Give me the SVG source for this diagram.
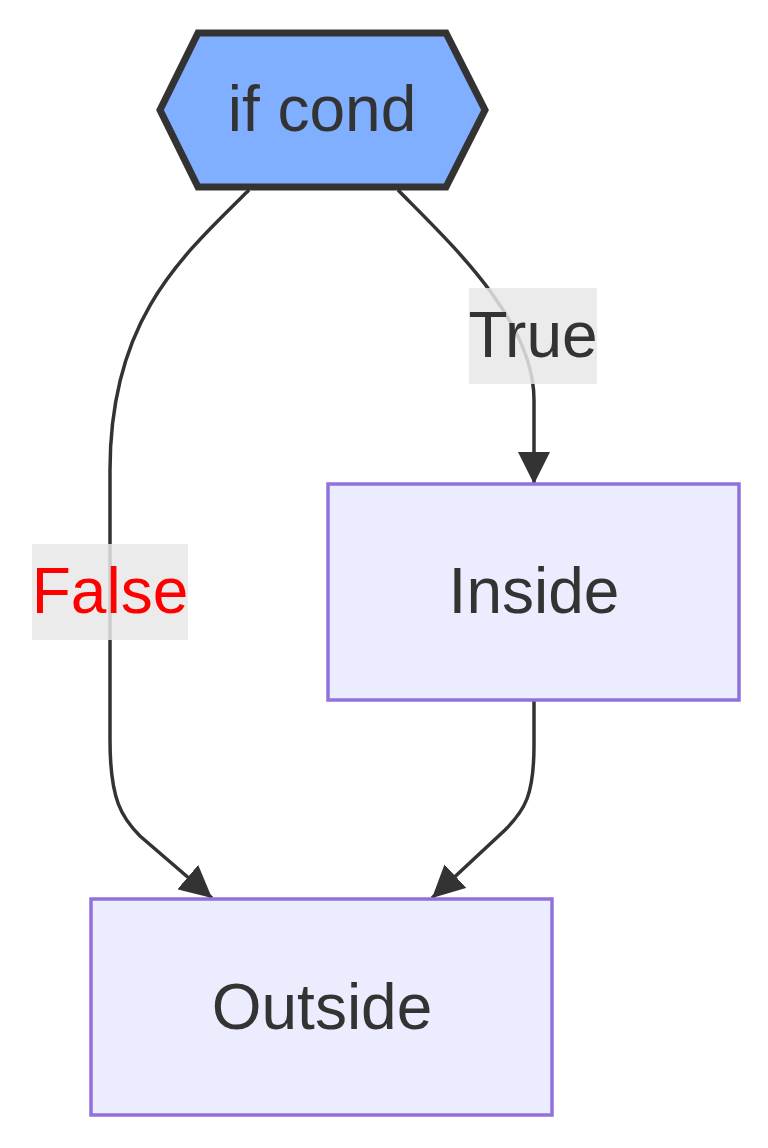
<svg xmlns="http://www.w3.org/2000/svg" width="768" height="1148" viewBox="0 0 768 1148">
<style>
.t{font-family:"Liberation Sans",Arial,sans-serif;font-size:64px;fill:#333;text-anchor:middle}
.box{fill:#ECECFF;stroke:#9370DB;stroke-width:3.5}
.edge{fill:none;stroke:#333;stroke-width:3.5}
.lbl{fill:#e8e8e8;fill-opacity:0.85}
</style>
<defs>
<marker id="arr" markerUnits="userSpaceOnUse" markerWidth="32" markerHeight="32" viewBox="0 0 32 32" refX="32" refY="16" orient="auto">
<path d="M0,0 L32,16 L0,32 z" fill="#333"/>
</marker>
</defs>
<g id="edges">
<path class="edge" d="M249,190 C180,258 110,320 110,470 L110,740 C110,800 122,818 140,836 L212,898" marker-end="url(#arr)"/>
<path class="edge" d="M398,190 C450,243 534,320 534,400 L534,484" marker-end="url(#arr)"/>
<path class="edge" d="M534,700 L534,745 C534,795 525,810 505,830 L432,898" marker-end="url(#arr)"/>
</g>
<g id="label-true">
<rect class="lbl" x="469" y="288" width="128" height="96"/>
<text class="t" x="533" y="357">True</text>
</g>
<g id="label-false">
<rect class="lbl" x="32" y="544" width="156" height="96"/>
<text class="t" x="110" y="613" style="fill:#ff0000">False</text>
</g>
<g id="node-cond">
<polygon points="198,33 446,33 485,110 446,187 198,187 160,110" fill="#80AFFF" stroke="#333" stroke-width="7"/>
<text class="t" x="322" y="131">if cond</text>
</g>
<g id="node-inside">
<rect class="box" x="328" y="484" width="411" height="216"/>
<text class="t" x="534" y="613">Inside</text>
</g>
<g id="node-outside">
<rect class="box" x="91" y="899" width="461" height="216"/>
<text class="t" x="322" y="1029">Outside</text>
</g>
</svg>
